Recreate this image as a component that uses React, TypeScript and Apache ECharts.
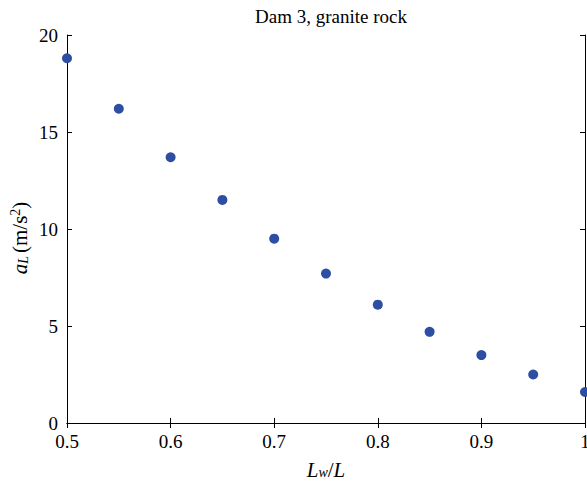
import React, { useEffect, useRef } from "react";
import * as echarts from "echarts";

const xValues = [0.5, 0.55, 0.6, 0.65, 0.7, 0.75, 0.8, 0.85, 0.9, 0.95, 1.0];
const yValues = [18.8, 16.2, 13.7, 11.5, 9.5, 7.7, 6.1, 4.7, 3.5, 2.5, 1.6];
const titleText = "Dam 3, granite rock";

const FONT = "'Liberation Serif', 'DejaVu Serif', serif";

export default function App() {
  const ref = useRef<HTMLDivElement>(null);
  useEffect(() => {
    document.body.style.margin = "0";
    const chart = echarts.init(ref.current!, null, { renderer: "svg" });
    const axisCommon = {
      axisLine: { show: true, lineStyle: { color: "#000", width: 1 } },
      axisTick: { show: true, inside: true, length: 5, lineStyle: { color: "#000" } },
      splitLine: { show: false },
    };
    chart.setOption({
      animation: false,
      backgroundColor: "#fff",
      title: {
        text: titleText,
        left: 326,
        textAlign: "center",
        top: 2,
        textStyle: { fontFamily: FONT, fontSize: 19, fontWeight: "normal", color: "#000" },
      },
      grid: { left: 67, right: 2, top: 35, bottom: 65, containLabel: false, outerBoundsMode: "none" },
      xAxis: [
        {
          type: "value",
          min: 0.5,
          max: 1,
          interval: 0.1,
          ...axisCommon,
          axisLabel: {
            fontFamily: FONT,
            fontSize: 19,
            color: "#000",
            margin: 9,
            formatter: (v: number) => String(+v.toFixed(1)),
          },
          name: "{i|L}{s|w}{n|/}{i|L}",
          nameLocation: "middle",
          nameGap: 36,
          nameMoveOverlap: false,
          nameTextStyle: {
            fontFamily: FONT,
            color: "#000",
            rich: {
              i: { fontFamily: FONT, fontSize: 21, fontStyle: "italic", color: "#000" },
              n: { fontFamily: FONT, fontSize: 21, color: "#000" },
              s: { fontFamily: FONT, fontSize: 14, fontStyle: "italic", color: "#000", padding: [0, 0, -5, 0] },
            },
          },
        },
        {
          type: "value",
          position: "top",
          min: 0.5,
          max: 1,
          interval: 0.1,
          ...axisCommon,
          axisLabel: { show: false },
        },
      ],
      yAxis: [
        {
          type: "value",
          min: 0,
          max: 20,
          interval: 5,
          ...axisCommon,
          axisLabel: { fontFamily: FONT, fontSize: 19, color: "#000", margin: 9 },
          name: "{i|a}{s|L}{n|(m/s}{p|2}{n|)}",
          nameLocation: "middle",
          nameGap: 35,
          nameRotate: 90,
          nameMoveOverlap: false,
          nameTextStyle: {
            fontFamily: FONT,
            color: "#000",
            padding: [0, 18, 0, 0],
            rich: {
              i: { fontFamily: FONT, fontSize: 21, fontStyle: "italic", color: "#000" },
              n: { fontFamily: FONT, fontSize: 21, color: "#000" },
              s: { fontFamily: FONT, fontSize: 14, fontStyle: "italic", color: "#000", padding: [0, 3, -6, 0] },
              p: { fontFamily: FONT, fontSize: 14, color: "#000", padding: [0, 0, 10, 0] },
            },
          },
        },
        {
          type: "value",
          position: "right",
          min: 0,
          max: 20,
          interval: 5,
          ...axisCommon,
          axisLabel: { show: false },
        },
      ],
      series: [
        {
          type: "scatter",
          xAxisIndex: 0,
          yAxisIndex: 0,
          symbol: "circle",
          symbolSize: 10,
          itemStyle: { color: "#2d4ea3", opacity: 1 },
          data: xValues.map((x, i) => [x, yValues[i]]),
        },
      ],
    });
    return () => chart.dispose();
  }, []);
  return <div ref={ref} style={{ width: 587, height: 488 }} />;
}
